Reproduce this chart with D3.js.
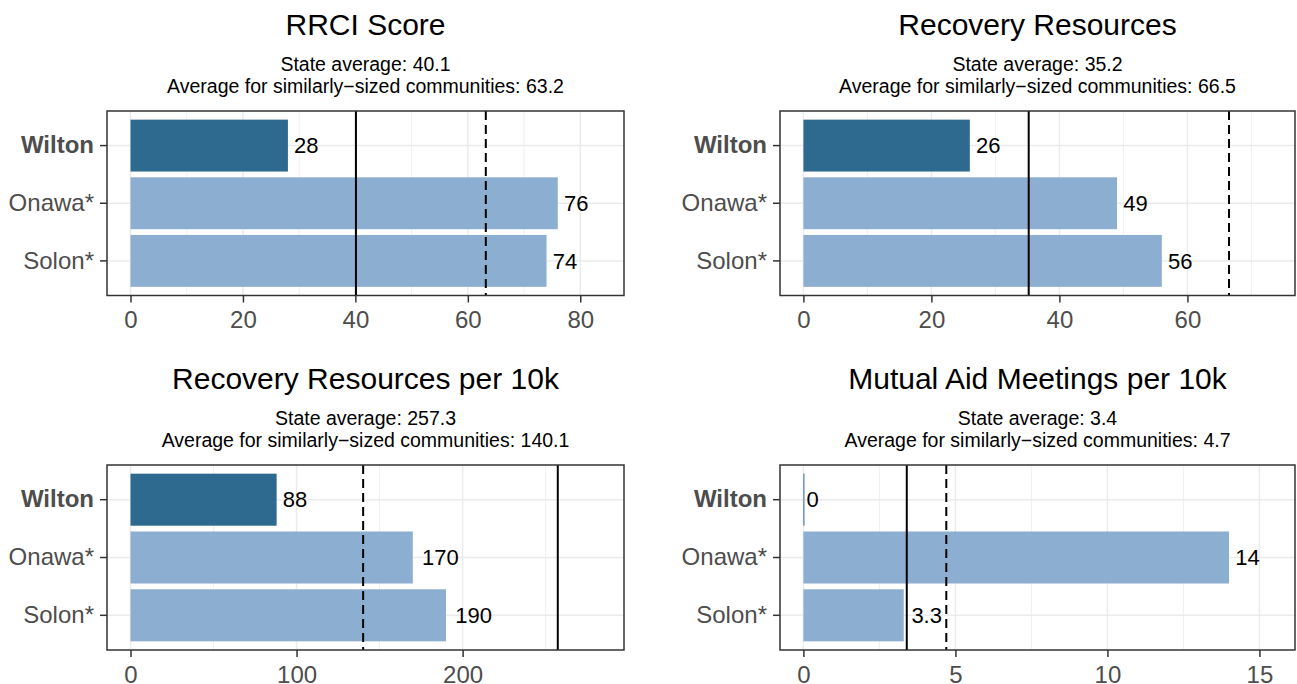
<!DOCTYPE html>
<html>
<head>
<meta charset="utf-8">
<script src="https://cdn.jsdelivr.net/npm/d3@7"></script>
<style>
body { margin: 0; background: #fff; }
text { font-family: "Liberation Sans", Arial, Helvetica, sans-serif; }
</style>
</head>
<body>
<script>
// data
const places = ["Wilton", "Onawa*", "Solon*"];
const titles = ["RRCI Score", "Recovery Resources", "Recovery Resources per 10k", "Mutual Aid Meetings per 10k"];

const rrciScore = [28, 76, 74];
const recoveryResources = [26, 49, 56];
const resourcesPer10k = [88, 170, 190];
const meetingsPer10k = [0, 14, 3.3];

const stateAvg = [40.1, 35.2, 257.3, 3.4];
const similarAvg = [63.2, 66.5, 140.1, 4.7];

const xTicks = [[0, 20, 40, 60, 80], [0, 20, 40, 60], [0, 100, 200], [0, 5, 10, 15]];

const series = [rrciScore, recoveryResources, resourcesPer10k, meetingsPer10k];

const W = 1297, H = 684;
const colors = {home: "#2e6a8f", other: "#8caed1"};

// panel boxes (layout)
const boxes = [
  {left: 107, right: 624, top: 111, bottom: 295.5},
  {left: 780, right: 1295, top: 111, bottom: 295.5},
  {left: 107, right: 624, top: 465, bottom: 650},
  {left: 780, right: 1295, top: 465, bottom: 650}
];

const svg = d3.select("body").append("svg")
  .attr("width", W)
  .attr("height", H);

svg.append("rect").attr("width", W).attr("height", H).attr("fill", "#fff");

function drawPanel(i) {
  let b = boxes[i];
  let vals = series[i];
  let rows = places.map((p, j) => ({name: p, v: vals[j]}));
  let lim = d3.max([...vals, stateAvg[i], similarAvg[i]]) * 1.1;

  let x = d3.scaleLinear()
    .domain([-0.05 * lim, 1.05 * lim])
    .range([b.left, b.right]);
  let y = d3.scaleBand()
    .domain(places)
    .range([b.top, b.bottom])
    .paddingInner(0.1)
    .paddingOuter(0.15);

  let g = svg.append("g");
  let ticks = xTicks[i];
  let step = ticks[1] - ticks[0];
  let minor = ticks.map(t => t + step / 2).filter(t => t < x.domain()[1]);

  // grid
  g.selectAll(".minor").data(minor).join("line")
    .attr("x1", d => x(d)).attr("x2", d => x(d))
    .attr("y1", b.top).attr("y2", b.bottom)
    .attr("stroke", "#ebebeb").attr("stroke-width", 0.8);
  g.selectAll(".major").data(ticks).join("line")
    .attr("x1", d => x(d)).attr("x2", d => x(d))
    .attr("y1", b.top).attr("y2", b.bottom)
    .attr("stroke", "#ebebeb").attr("stroke-width", 1.5);
  g.selectAll(".hgrid").data(places).join("line")
    .attr("x1", b.left).attr("x2", b.right)
    .attr("y1", d => y(d) + y.bandwidth() / 2)
    .attr("y2", d => y(d) + y.bandwidth() / 2)
    .attr("stroke", "#ebebeb").attr("stroke-width", 1.5);

  // bars
  g.selectAll(".bar").data(rows).join("rect")
    .attr("x", x(0))
    .attr("y", d => y(d.name))
    .attr("width", d => Math.max(x(d.v) - x(0), 1))
    .attr("height", y.bandwidth())
    .attr("fill", d => d.name == "Wilton" ? colors.home : colors.other);

  // reference lines
  g.append("line")
    .attr("x1", x(stateAvg[i])).attr("x2", x(stateAvg[i]))
    .attr("y1", b.top).attr("y2", b.bottom)
    .attr("stroke", "#000").attr("stroke-width", 2);
  g.append("line")
    .attr("x1", x(similarAvg[i])).attr("x2", x(similarAvg[i]))
    .attr("y1", b.top).attr("y2", b.bottom)
    .attr("stroke", "#000").attr("stroke-width", 2)
    .attr("stroke-dasharray", "9,5");

  // value labels
  let fmt = d3.format(".2~r");
  g.selectAll(".val").data(rows).join("text")
    .attr("y", d => y(d.name) + y.bandwidth() / 2)
    .attr("dy", "0.35em")
    .attr("font-size", 22)
    .attr("fill", "#000")
    .text(d => fmt(d.v))
    .each(function(d) {
      let w = this.getComputedTextLength();
      d3.select(this).attr("x", x(d.v) + 0.25 * w);
    });

  // border
  g.append("rect")
    .attr("x", b.left).attr("y", b.top)
    .attr("width", b.right - b.left).attr("height", b.bottom - b.top)
    .attr("fill", "none").attr("stroke", "#333").attr("stroke-width", 1.5);

  // axes
  let xAxis = g.append("g")
    .attr("transform", `translate(0,${b.bottom})`)
    .call(d3.axisBottom(x).tickValues(ticks).tickSize(7).tickPadding(8.5));
  let yAxis = g.append("g")
    .attr("transform", `translate(${b.left},0)`)
    .call(d3.axisLeft(y).tickSize(7).tickPadding(6));

  [xAxis, yAxis].forEach(a => {
    a.select(".domain").remove();
    a.selectAll("line").attr("stroke", "#333").attr("stroke-width", 1.5);
    a.selectAll("text")
      .attr("font-size", 24)
      .attr("fill", "#4d4d4d")
      .style("font-family", "'Liberation Sans', Arial, sans-serif");
  });
  yAxis.selectAll("text").filter(d => d == "Wilton").attr("font-weight", "bold");

  // titles
  let cx = (b.left + b.right) / 2;
  g.append("text")
    .attr("x", cx).attr("y", b.top - 76)
    .attr("text-anchor", "middle")
    .attr("font-size", 30)
    .text(titles[i]);
  g.append("text")
    .attr("x", cx).attr("y", b.top - 40)
    .attr("text-anchor", "middle")
    .attr("font-size", 19.5)
    .text("State average: " + stateAvg[i].toFixed(1));
  g.append("text")
    .attr("x", cx).attr("y", b.top - 18)
    .attr("text-anchor", "middle")
    .attr("font-size", 19.5)
    .text("Average for similarly\u2212sized communities: " + similarAvg[i].toFixed(1));
}

for (let i = 0; i < 4; i++) {
  drawPanel(i);
}
</script>
</body>
</html>
